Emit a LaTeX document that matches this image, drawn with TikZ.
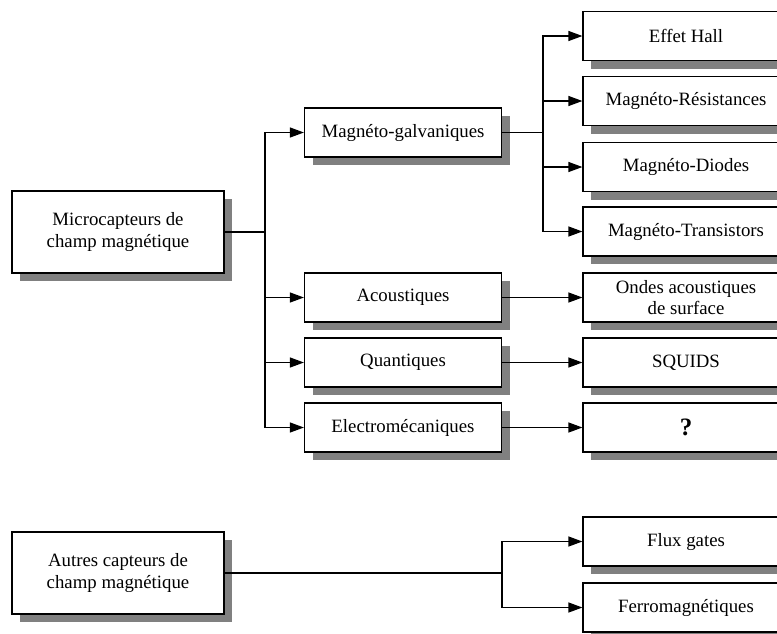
\documentclass[tikz,border=0pt]{standalone}
\usepackage{fontspec}
\setmainfont{Liberation Serif}
\usetikzlibrary{arrows.meta,shadows}

\begin{document}
\begin{tikzpicture}[x=1pt,y=-1pt,
    box/.style={draw,line width=1.2pt,fill=white,align=center,inner sep=2pt,
      font=\fontsize{18.8}{21.5}\selectfont,
      drop shadow={shadow xshift=8pt,shadow yshift=-8pt,fill=black!50,opacity=1}},
    bigbox/.style={box,minimum width=212pt,minimum height=82pt},
    midbox/.style={box,minimum width=197pt,minimum height=49pt},
    endbox/.style={box,minimum width=206pt,minimum height=49pt},
    conn/.style={line width=1.2pt},
    arr/.style={conn,-{Triangle[length=14pt,width=10pt]}}]
  \clip (0,0) rectangle (777,633);

  % gauche
  \node[bigbox] (micro) at (118,232) {Microcapteurs de\\champ magnétique};
  \node[bigbox] (autres) at (118,573) {Autres capteurs de\\champ magnétique};

  % milieu
  \node[midbox] (galva) at (403,132.5) {Magnéto-galvaniques};
  \node[midbox] (acou) at (403,297.5) {Acoustiques};
  \node[midbox] (quant) at (403,362.5) {Quantiques};
  \node[midbox] (electro) at (403,427.5) {Electromécaniques};

  % droite
  \node[endbox] (hall) at (686,36) {Effet Hall};
  \node[endbox] (resist) at (686,101) {Magnéto-Résistances};
  \node[endbox] (diodes) at (686,167) {Magnéto-Diodes};
  \node[endbox] (trans) at (686,231.5) {Magnéto-Transistors};
  \node[endbox] (ondes) at (686,297.5) {Ondes acoustiques\\de surface};
  \node[endbox] (squids) at (686,362.5) {SQUIDS};
  \node[endbox] (inconnu) at (686,427.5) {\fontsize{25}{28}\selectfont\textbf{?}};
  \node[endbox] (flux) at (686,541.5) {Flux gates};
  \node[endbox] (ferro) at (686,607.5) {Ferromagnétiques};

  % points de branchement
  \coordinate (jmicro) at (265,232);
  \coordinate (jgalva) at (543,132.5);
  \coordinate (jautres) at (502,573);

  \draw[conn] (micro.east) -- (jmicro);
  \draw[arr] (jmicro) |- (galva.west);
  \draw[arr] (jmicro) |- (acou.west);
  \draw[arr] (jmicro) |- (quant.west);
  \draw[arr] (jmicro) |- (electro.west);

  \draw[conn] (galva.east) -- (jgalva);
  \draw[arr] (jgalva) |- (hall.west);
  \draw[arr] (jgalva) |- (resist.west);
  \draw[arr] (jgalva) |- (diodes.west);
  \draw[arr] (jgalva) |- (trans.west);

  \draw[arr] (acou) -- (ondes);
  \draw[arr] (quant) -- (squids);
  \draw[arr] (electro) -- (inconnu);

  \draw[conn] (autres.east) -- (jautres);
  \draw[arr] (jautres) |- (flux.west);
  \draw[arr] (jautres) |- (ferro.west);
\end{tikzpicture}
\end{document}
